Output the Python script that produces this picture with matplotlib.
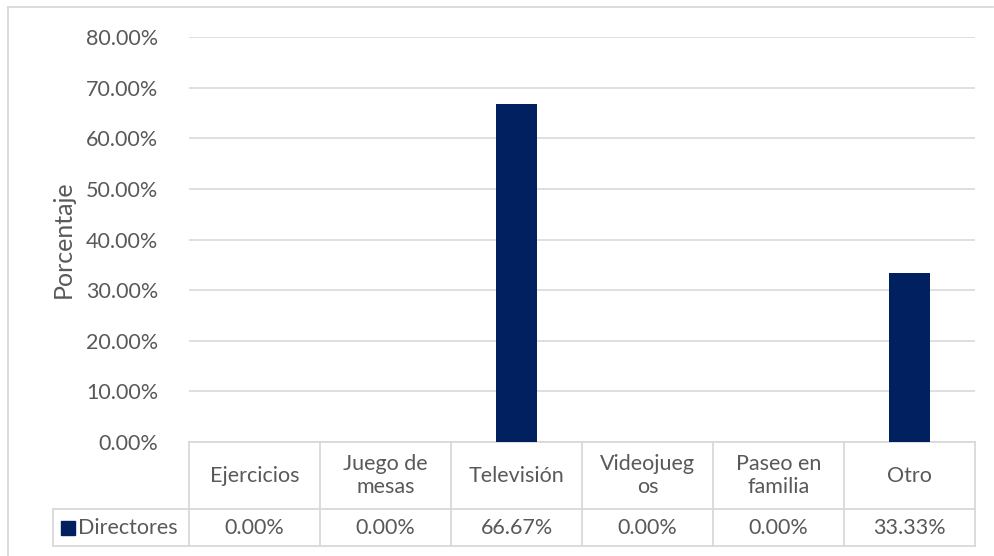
import matplotlib.pyplot as plt
from matplotlib.lines import Line2D
from matplotlib.patches import Rectangle
import matplotlib.transforms as mtransforms

plt.rcParams['font.family'] = ['Lato', 'DejaVu Sans']

categories = ['Ejercicios', 'Juego de\nmesas', 'Televisión', 'Videojueg\nos', 'Paseo en\nfamilia', 'Otro']
series_name = 'Directores'
values = [0.0, 0.0, 0.6667, 0.0, 0.0, 0.3333]
yticks = [0.0, 0.1, 0.2, 0.3, 0.4, 0.5, 0.6, 0.7, 0.8]

W, H = 994, 556
bar_color = '#002060'
text_color = '#595959'
line_color = '#d9d9d9'
fs = 15.5

fig = plt.figure(figsize=(W / 100, H / 100), dpi=100)

# plot area in pixel coords
x0, x1 = 189, 975
y_top, y_bot = 37, 442
ax = fig.add_axes([x0 / W, (H - y_bot) / H, (x1 - x0) / W, (y_bot - y_top) / H])

n = len(categories)
ax.bar(range(n), values, width=0.32, color=bar_color, zorder=3)
ax.set_xlim(-0.5, n - 0.5)
ax.set_ylim(0, 0.8)
ax.set_yticks(yticks)
ax.set_yticklabels([f'{v * 100:.2f}%' for v in yticks], fontsize=fs, color=text_color)
ax.tick_params(axis='y', length=0, pad=22)
ax.set_xticks([])
ax.grid(axis='y', color=line_color, linewidth=1.2, zorder=0)
for s in ax.spines.values():
    s.set_visible(False)
ax.set_ylabel('Porcentaje', fontsize=18, color=text_color, labelpad=8)

# data table below the axis
ph = y_bot - y_top
row1 = -(509 - y_bot) / ph
row2 = -(546 - y_bot) / ph
trans = mtransforms.blended_transform_factory(ax.transData, ax.transAxes)
lx = -(x0 - 53) / (x1 - x0)

def hline(xa, xb, y, tr):
    ax.add_line(Line2D([xa, xb], [y, y], transform=tr, color=line_color, lw=1.3, clip_on=False))

def vline(x, ya, yb, tr):
    ax.add_line(Line2D([x, x], [ya, yb], transform=tr, color=line_color, lw=1.3, clip_on=False))

hline(-0.5, n - 0.5, 0, trans)
hline(lx, 1, row1, ax.transAxes)
hline(lx, 1, row2, ax.transAxes)
vline(lx, row1, row2, ax.transAxes)
for i in range(n + 1):
    vline(i - 0.5, 0, row2, trans)

for i, (c, v) in enumerate(zip(categories, values)):
    ax.text(i, row1 / 2, c, transform=trans, ha='center', va='center',
            fontsize=fs, color=text_color, linespacing=1.2)
    ax.text(i, (row1 + row2) / 2, f'{v * 100:.2f}%', transform=trans,
            ha='center', va='center', fontsize=fs, color=text_color)

# legend key + series name
ax.add_patch(Rectangle((lx + 8 / (x1 - x0), (row1 + row2) / 2 - 7 / ph), 14 / (x1 - x0), 14 / ph,
                       transform=ax.transAxes, color=bar_color, clip_on=False))
ax.text(lx + 25 / (x1 - x0), (row1 + row2) / 2, series_name, transform=ax.transAxes,
        ha='left', va='center', fontsize=fs, color=text_color)

# chart border
fig.add_artist(Line2D([8 / W, 993 / W], [1 - 7 / H, 1 - 7 / H], color=line_color, lw=1.3))
fig.add_artist(Line2D([8 / W, 8 / W], [1 - 7 / H, 0], color=line_color, lw=1.3))

fig.savefig('out.png', dpi=100)
